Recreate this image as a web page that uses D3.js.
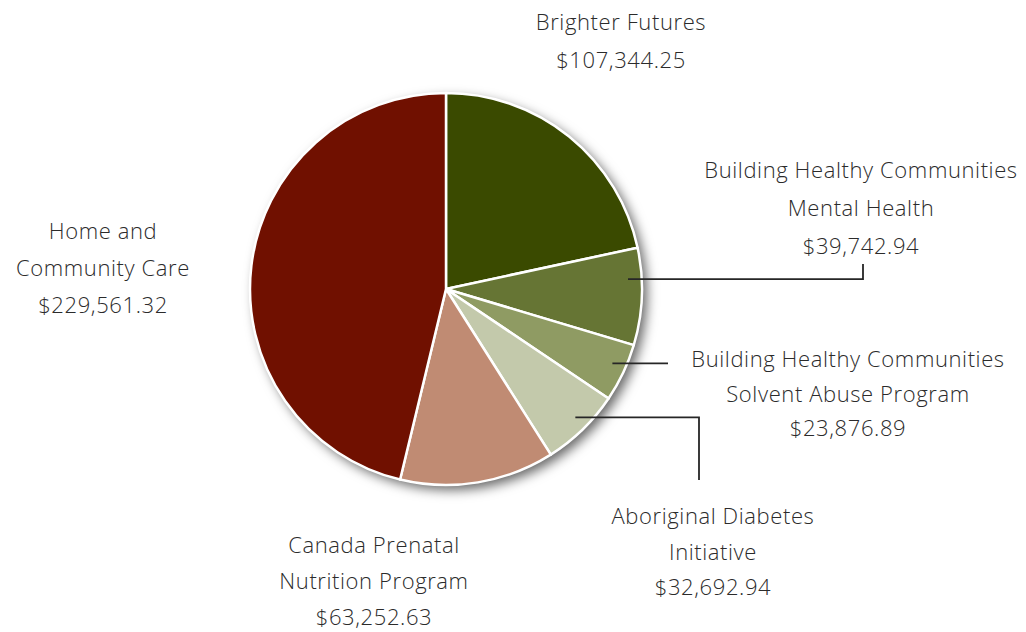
<!DOCTYPE html>
<html>
<head>
<meta charset="utf-8">
<script src="https://cdn.jsdelivr.net/npm/d3@7"></script>
<style>
  body { margin: 0; background: #fff; }
  text { font-family: "Open Sans", Lato, sans-serif; font-weight: 300; fill: #2b2b2b; letter-spacing: 0.6px; }
</style>
</head>
<body>
<div id="chart"></div>
<script>
// ---------------  DATA  ---------------
const programs = [
  ["Brighter Futures"],
  ["Building Healthy Communities", "Mental Health"],
  ["Building Healthy Communities", "Solvent Abuse Program"],
  ["Aboriginal Diabetes", "Initiative"],
  ["Canada Prenatal", "Nutrition Program"],
  ["Home and", "Community Care"]
];
const amounts = [107344.25, 39742.94, 23876.89, 32692.94, 63252.63, 229561.32];
const colors = ["#3a4a00", "#667534", "#8f9b63", "#c3c9ab", "#c08b73", "#701000"];

// label anchor (centre x, first line y), line height, leader (angle in pie, then bends)
const labelPos = [
  {x: 621, y: 32, lh: 38, leader: null},
  {x: 861, y: 180, lh: 38, leader: {a: 86.9, bends: [[863, null], [863, 264]]}},
  {x: 848, y: 369, lh: 34.5, leader: {a: 114.1, bends: [[668, null]]}},
  {x: 713, y: 526, lh: 35.5, leader: {a: 134.8, bends: [[699, null], [699, 480]]}},
  {x: 374, y: 555, lh: 36, leader: null},
  {x: 103, y: 241, lh: 37, leader: null}
];

const width = 1026, height = 632;
const cx = 446, cy = 289, radius = 196;

const svg = d3.select("#chart").append("svg")
  .attr("width", width)
  .attr("height", height);

// ---------------  SHADOW  ---------------
const defs = svg.append("defs");
const filter = defs.append("filter").attr("id", "shadow")
  .attr("x", "-20%").attr("y", "-20%").attr("width", "140%").attr("height", "140%");
filter.append("feDropShadow")
  .attr("dx", 5).attr("dy", 5)
  .attr("stdDeviation", 6)
  .attr("flood-color", "#000")
  .attr("flood-opacity", 0.6);

const data = amounts.map((v, i) => ({name: programs[i], value: v, i: i}));

const pie = d3.pie().sort(null).value(d => d.value);
const arcs = pie(data);
const arc = d3.arc().innerRadius(0).outerRadius(radius);

const g = svg.append("g").attr("transform", `translate(${cx},${cy})`);

g.append("circle").attr("r", radius).attr("fill", "#fff").attr("filter", "url(#shadow)");

g.selectAll("path.slice")
  .data(arcs)
  .enter()
  .append("path")
  .attr("class", "slice")
  .attr("d", arc)
  .attr("fill", d => colors[d.data.i])
  .attr("stroke", "#fff")
  .attr("stroke-width", 2.5)
  .attr("stroke-linejoin", "round");

// ---------------  LEADERS  ---------------
arcs.forEach(d => {
  const lp = labelPos[d.data.i];
  if (!lp.leader) return;
  const a = lp.leader.a * Math.PI / 180;
  const r0 = radius * 0.93;
  const x0 = cx + r0 * Math.sin(a), y0 = cy - r0 * Math.cos(a);
  const pts = [[x0, y0]];
  lp.leader.bends.forEach(b => pts.push([b[0], b[1] == null ? y0 : b[1]]));
  svg.append("path")
    .attr("d", d3.line()(pts))
    .attr("fill", "none")
    .attr("stroke", "#262626")
    .attr("stroke-width", 1.8);
});

// ---------------  LABELS  ---------------
const fmt = d3.format(",.2f");
data.forEach(d => {
  const lp = labelPos[d.i];
  const lines = d.name.concat(["$" + fmt(d.value)]);
  const t = svg.append("text")
    .attr("text-anchor", "middle")
    .attr("font-size", 22)
    .attr("dominant-baseline", "middle");
  lines.forEach((ln, k) => {
    t.append("tspan")
      .attr("x", lp.x)
      .attr("y", lp.y - 8 + k * lp.lh)
      .text(ln);
  });
});
</script>
</body>
</html>
